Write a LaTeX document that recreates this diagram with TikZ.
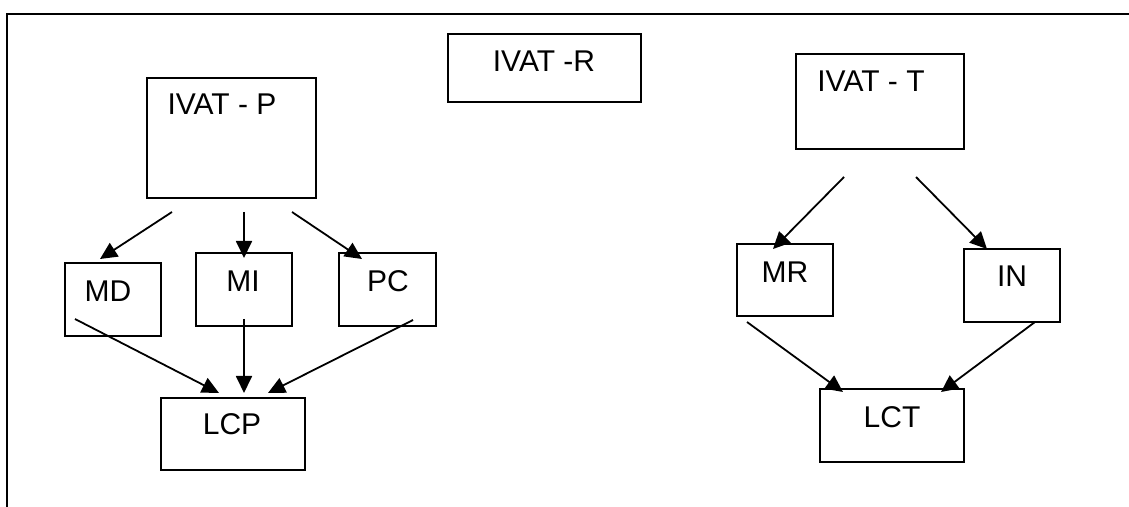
\documentclass[tikz,border=0pt]{standalone}
\usepackage{fontspec}
\setmainfont{Liberation Sans}
\usetikzlibrary{arrows.meta,fit}
\begin{document}
\begin{tikzpicture}[x=0.5pt,y=-0.5pt,
  box/.style={draw,line width=1pt,inner sep=0pt,rectangle},
  lbl/.style={inner sep=0pt,anchor=base,font=\fontsize{15pt}{17pt}\selectfont},
  arr/.style={line width=0.9pt,-{Triangle[length=8.5pt,width=8pt]}},
  frameline/.style={line width=1pt}]
\useasboundingbox (0,0) rectangle (1129,507);
% frame
\coordinate (f1) at (7,507);
\coordinate (f2) at (7,14);
\coordinate (f3) at (1129,14);
\draw[frameline] (f1) -- (f2) -- (f3);
% boxes
\node[box,fit={(147,78)(316,198)}] (P) {};
\node[box,fit={(448,34)(641,102)}] (R) {};
\node[box,fit={(796,54)(964,149)}] (T) {};
\node[box,fit={(65,263)(161,336)}] (MD) {};
\node[box,fit={(196,253)(292,326)}] (MI) {};
\node[box,fit={(339,253)(436,326)}] (PC) {};
\node[box,fit={(161,398)(305,470)}] (LCP) {};
\node[box,fit={(737,244)(833,316)}] (MR) {};
\node[box,fit={(964,249)(1060,322)}] (IN) {};
\node[box,fit={(820,389)(964,462)}] (LCT) {};
% labels
\node[lbl] (Pt) at (222,115) {IVAT - P};
\node[lbl] (Rt) at (544,72) {IVAT -R};
\node[lbl] (Tt) at (871,92) {IVAT - T};
\node[lbl] (MDt) at (108,302) {MD};
\node[lbl] (MIt) at (243,292) {MI};
\node[lbl] (PCt) at (388,292) {PC};
\node[lbl] (LCPt) at (232,435) {LCP};
\node[lbl] (MRt) at (785,283) {MR};
\node[lbl] (INt) at (1012,287) {IN};
\node[lbl] (LCTt) at (892,428) {LCT};
% arrow endpoints
\coordinate (pa1) at (172,212); \coordinate (pb1) at (100,259);
\coordinate (pa2) at (244,212); \coordinate (pb2) at (244,258);
\coordinate (pa3) at (292,212); \coordinate (pb3) at (362,259);
\coordinate (la1) at (75,319);  \coordinate (lb1) at (219,393);
\coordinate (la2) at (244,319); \coordinate (lb2) at (244,393);
\coordinate (la3) at (413,320); \coordinate (lb3) at (268,393);
\coordinate (ta1) at (844,177); \coordinate (tb1) at (773,249);
\coordinate (ta2) at (916,177); \coordinate (tb2) at (987,249);
\coordinate (ma1) at (747,322); \coordinate (mb1) at (843,392);
\coordinate (ma2) at (1035,322); \coordinate (mb2) at (941,392);
\draw[arr] (pa1) -- (pb1);
\draw[arr] (pa2) -- (pb2);
\draw[arr] (pa3) -- (pb3);
\draw[arr] (la1) -- (lb1);
\draw[arr] (la2) -- (lb2);
\draw[arr] (la3) -- (lb3);
\draw[arr] (ta1) -- (tb1);
\draw[arr] (ta2) -- (tb2);
\draw[arr] (ma1) -- (mb1);
\draw[arr] (ma2) -- (mb2);
\end{tikzpicture}
\end{document}
